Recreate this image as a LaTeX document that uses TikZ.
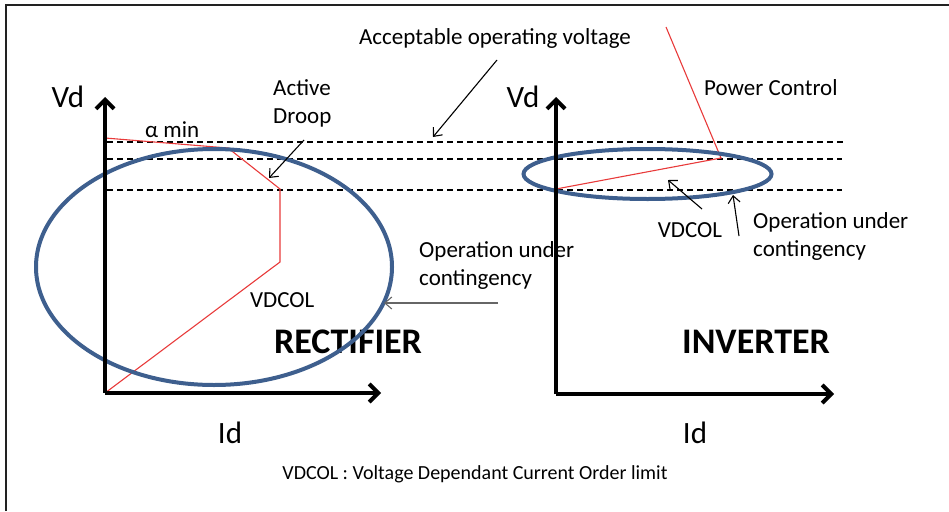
\documentclass[tikz,border=0pt]{standalone}
\usepackage{fontspec}
\setmainfont{Carlito}
\usetikzlibrary{arrows.meta}
\definecolor{ellblue}{HTML}{3E5F8E}
\definecolor{curvered}{HTML}{E83A3A}
\definecolor{framegray}{HTML}{222222}
\begin{document}
\begin{tikzpicture}[x=1pt,y=-1pt,
  axis/.style={line width=4pt,-{Straight Barb[length=9pt,width=18pt,line width=4pt]}},
  limit/.style={line width=1.4pt,dash pattern=on 6pt off 4pt},
  opell/.style={draw=ellblue,line width=4pt},
  charac/.style={draw=curvered,line width=1.1pt},
  pointer/.style={line width=1.1pt,-{Straight Barb[length=7pt,width=12pt,line width=1.1pt]}},
  lbl/.style={inner sep=0pt,font=\fontsize{23}{28}\selectfont},
  biglbl/.style={inner sep=0pt,font=\fontsize{31}{36}\selectfont},
  title/.style={inner sep=0pt,font=\fontsize{36}{40}\selectfont\bfseries}]
\useasboundingbox (0,0) rectangle (949,511);
\draw[framegray,line width=2.2pt] (6,511) -- (6,5) -- (949,5);

% named points
\coordinate (O1) at (105,393);
\coordinate (Y1) at (105,97);
\coordinate (X1) at (381,393);
\coordinate (O2) at (556,394);
\coordinate (Y2) at (556,97);
\coordinate (X2) at (834,394);

% texts
\node[biglbl] (vd1) at (68,97) {Vd};
\node[biglbl] (vd2) at (523,97) {Vd};
\node[biglbl] (id1) at (230,433) {Id};
\node[biglbl] (id2) at (695,433) {Id};
\node[lbl,align=left,anchor=west] (droop) at (273,103) {Active\\Droop};
\node[lbl,anchor=west] (amin) at (145,130) {α min};
\node[lbl] (accept) at (495,38) {Acceptable operating voltage};
\node[lbl,anchor=west] (pc) at (704,88) {Power Control};
\node[lbl] (vdcol2) at (690,230) {VDCOL};
\node[lbl,align=left,anchor=west] (oper2) at (753,236) {Operation under\\contingency};
\node[lbl,align=left,anchor=west] (oper1) at (419,265) {Operation under\\contingency};
\node[lbl,anchor=west] (vdcol1) at (250,300) {VDCOL};
\node[title] (rect) at (348,342) {RECTIFIER};
\node[title] (inv) at (756,342) {INVERTER};
\node[inner sep=0pt,font=\fontsize{20}{24}\selectfont] (foot) at (475,474) {VDCOL : Voltage Dependant Current Order limit};

% dashed limits
\coordinate (d1a) at (107,142); \coordinate (d1b) at (846,142);
\coordinate (d2a) at (107,159); \coordinate (d2b) at (842,159);
\coordinate (d3a) at (107,190); \coordinate (d3b) at (842,190);
\draw[limit] (d1a) -- (d1b);
\draw[limit] (d2a) -- (d2b);
\draw[limit] (d3a) -- (d3b);

% red characteristics
\coordinate (r1) at (105,138);
\coordinate (r2) at (228,148);
\coordinate (r3) at (280,189);
\coordinate (r4) at (280,262);
\draw[charac] (r1) -- (r2) -- (r3) -- (r4) -- (O1);
\coordinate (s1) at (556,189);
\coordinate (s2) at (721,158);
\coordinate (s3) at (666,27);
\draw[charac] (s1) -- (s2) -- (s3);

% ellipses
\draw[opell] (214,267) ellipse [x radius=178, y radius=118];
\draw[opell] (647.5,174) ellipse [x radius=124, y radius=25];

% axes
\draw[axis] (O1) -- (Y1);
\draw[axis] (O1) -- (X1);
\draw[axis] (O2) -- (Y2);
\draw[axis] (O2) -- (X2);

% pointers
\coordinate (p1s) at (304,140); \coordinate (p1e) at (269,178);
\draw[pointer] (p1s) -- (p1e);
\coordinate (p2s) at (497,60); \coordinate (p2e) at (433,137);
\draw[pointer] (p2s) -- (p2e);
\coordinate (p3s) at (702,209); \coordinate (p3e) at (668,180);
\draw[pointer] (p3s) -- (p3e);
\coordinate (p4s) at (739,236); \coordinate (p4e) at (733,195);
\draw[pointer] (p4s) -- (p4e);
\coordinate (p5s) at (498,303); \coordinate (p5e) at (384,303);
\draw[pointer,draw=black!60] (p5s) -- (p5e);
\end{tikzpicture}
\end{document}
